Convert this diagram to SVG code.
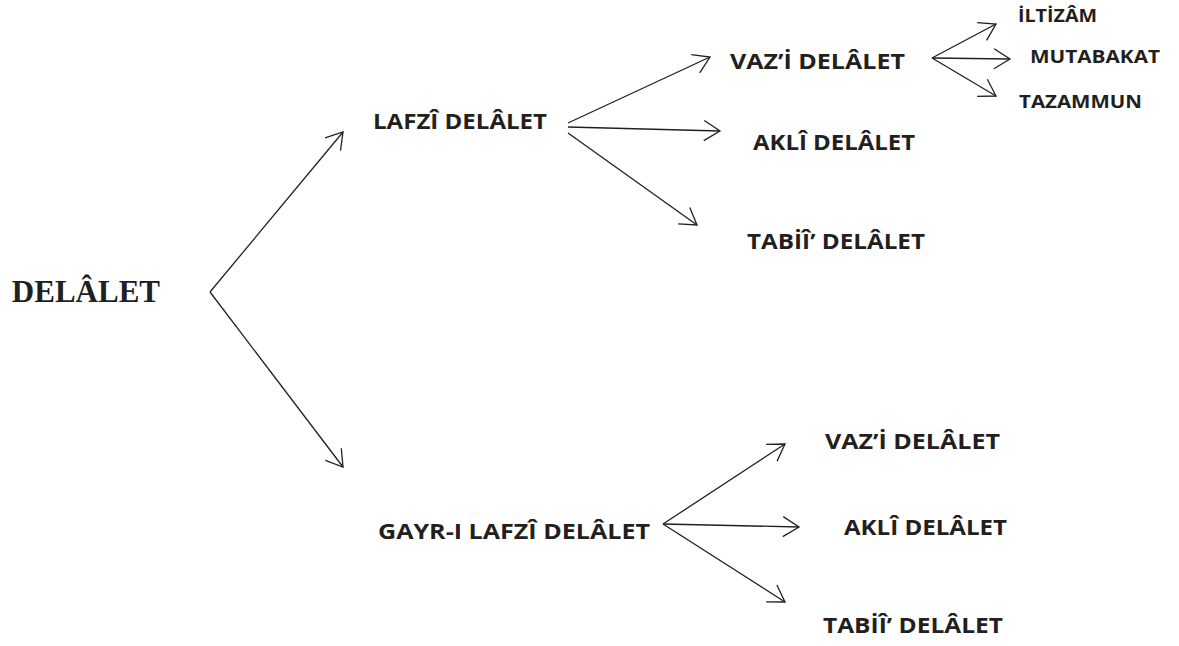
<svg xmlns="http://www.w3.org/2000/svg" width="1179" height="646" viewBox="0 0 1179 646">
<style>
.t{font-family:"Open Sans","DejaVu Sans",sans-serif;font-weight:bold;fill:#231f20;font-size:21.5px}
.s{font-size:17px}
.root{font-family:"Liberation Serif","Times New Roman",serif;font-weight:bold;fill:#231f20;font-size:31px}
.c line{stroke:#231f20;stroke-width:1.3;fill:none}
</style>
<defs>
<marker id="a" markerUnits="userSpaceOnUse" markerWidth="20" markerHeight="24" refX="17" refY="11" orient="auto">
<path d="M1,1 L17,11 L1,21" fill="none" stroke="#231f20" stroke-width="1.3"/>
</marker>
</defs>
<g class="c" id="connectors">
<line x1="210" y1="292" x2="343" y2="132" marker-end="url(#a)"/>
<line x1="210" y1="292" x2="343" y2="467" marker-end="url(#a)"/>
<line x1="568" y1="123" x2="710" y2="57" marker-end="url(#a)"/>
<line x1="568" y1="127" x2="720" y2="131" marker-end="url(#a)"/>
<line x1="568" y1="133" x2="697" y2="225" marker-end="url(#a)"/>
<line x1="932" y1="58" x2="996" y2="24" marker-end="url(#a)"/>
<line x1="932" y1="58" x2="1010" y2="59" marker-end="url(#a)"/>
<line x1="932" y1="58" x2="996" y2="96" marker-end="url(#a)"/>
<line x1="663" y1="524" x2="785" y2="444" marker-end="url(#a)"/>
<line x1="663" y1="524" x2="799" y2="527" marker-end="url(#a)"/>
<line x1="663" y1="524" x2="785" y2="602" marker-end="url(#a)"/>
</g>
<g id="root"><text class="root" x="160" y="302" text-anchor="end">DELÂLET</text></g>
<g id="lafzi"><text class="t" x="373" y="129" textLength="174" lengthAdjust="spacingAndGlyphs">LAFZÎ DELÂLET</text></g>
<g id="vazi1"><text class="t" x="730" y="69" textLength="175" lengthAdjust="spacingAndGlyphs">VAZ’İ DELÂLET</text></g>
<g id="akli1"><text class="t" x="753" y="150" textLength="162" lengthAdjust="spacingAndGlyphs">AKLÎ DELÂLET</text></g>
<g id="tabii1"><text class="t" x="747" y="249" textLength="178" lengthAdjust="spacingAndGlyphs">TABİÎ’ DELÂLET</text></g>
<g id="iltizam"><text class="t s" x="1018" y="22" textLength="79" lengthAdjust="spacingAndGlyphs">İLTİZÂM</text></g>
<g id="mutabakat"><text class="t s" x="1030" y="63" textLength="130" lengthAdjust="spacingAndGlyphs">MUTABAKAT</text></g>
<g id="tazammun"><text class="t s" x="1019" y="108" textLength="123" lengthAdjust="spacingAndGlyphs">TAZAMMUN</text></g>
<g id="gayri"><text class="t" x="378" y="539" textLength="272" lengthAdjust="spacingAndGlyphs">GAYR-I LAFZÎ DELÂLET</text></g>
<g id="vazi2"><text class="t" x="825" y="449" textLength="175" lengthAdjust="spacingAndGlyphs">VAZ’İ DELÂLET</text></g>
<g id="akli2"><text class="t" x="844" y="535" textLength="163" lengthAdjust="spacingAndGlyphs">AKLÎ DELÂLET</text></g>
<g id="tabii2"><text class="t" x="823" y="633" textLength="180" lengthAdjust="spacingAndGlyphs">TABİÎ’ DELÂLET</text></g>
</svg>
